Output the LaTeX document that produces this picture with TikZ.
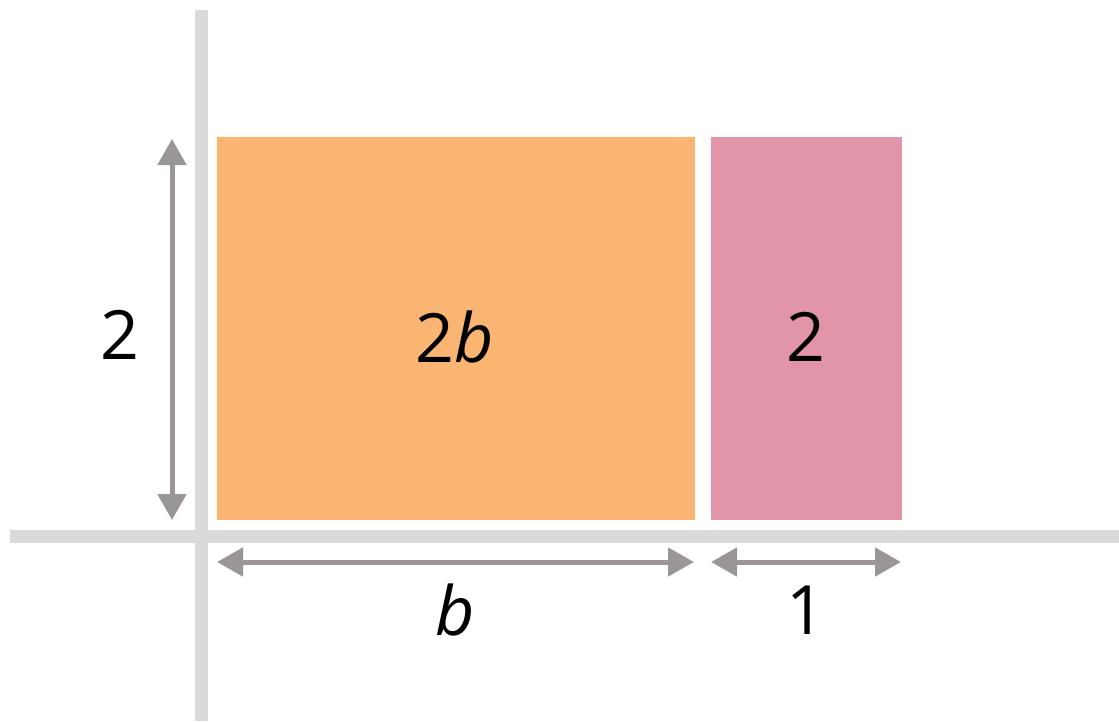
\documentclass[tikz,border=0pt]{standalone}
\usepackage{fontspec}
\setmainfont{Open Sans}
\usetikzlibrary{arrows.meta}
\definecolor{axisgray}{HTML}{DADADA}
\definecolor{orangefill}{HTML}{FBB572}
\definecolor{pinkfill}{HTML}{E295A8}
\definecolor{arrgray}{HTML}{9A9697}
\begin{document}
\begin{tikzpicture}[x=1pt,y=-1pt,
  axis/.style={draw=axisgray,line width=13pt},
  dim/.style={draw=arrgray,line width=5pt,{Triangle[width=28pt,length=26pt]}-{Triangle[width=28pt,length=26pt]}},
  lbl/.style={font=\fontsize{68}{80}\selectfont,text=black}]
\useasboundingbox (0,0) rectangle (1119,721);
\coordinate (vt) at (201,10);
\coordinate (vb) at (201,721);
\coordinate (hl) at (10,536.5);
\coordinate (hr) at (1119,536.5);
\draw[axis] (vt) -- (vb);
\draw[axis] (hl) -- (hr);
\fill[orangefill] (217,137) rectangle (695,520);
\fill[pinkfill] (711,137) rectangle (902,520);
\coordinate (a1) at (172,139);
\coordinate (a2) at (172,520);
\coordinate (b1) at (217,562);
\coordinate (b2) at (694,562);
\coordinate (c1) at (711,562);
\coordinate (c2) at (901,562);
\draw[dim] (a1) -- (a2);
\draw[dim] (b1) -- (b2);
\draw[dim] (c1) -- (c2);
\node[lbl] (l2) at (120,335) {2};
\node[lbl] (l2b) at (455,337) {2\textit{b}};
\node[lbl] (lp) at (806,337) {2};
\node[lbl] (lb) at (455,610) {\textit{b}};
\node[lbl] (l1) at (806,610) {1};
\end{tikzpicture}
\end{document}
